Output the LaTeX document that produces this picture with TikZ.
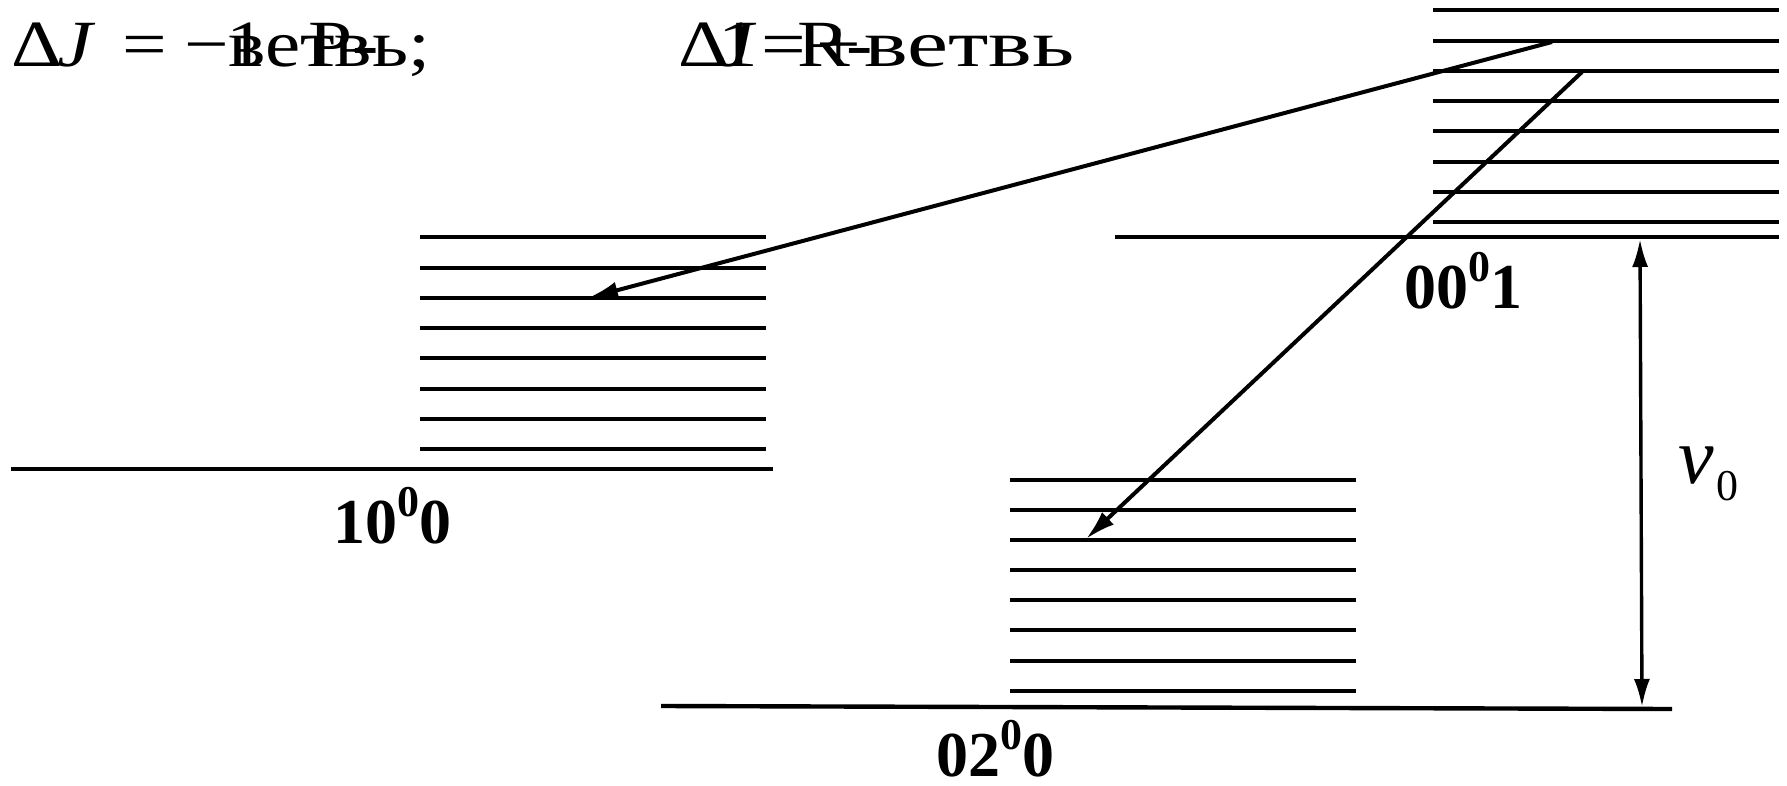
\documentclass[tikz,border=0pt]{standalone}
\usepackage{fontspec}
\setmainfont{Liberation Serif}
\newfontfamily\wideA[FakeStretch=1.2]{Liberation Serif}
\newfontfamily\wideB[FakeStretch=1.4]{Liberation Serif}
\usetikzlibrary{arrows.meta}
\begin{document}
\begin{tikzpicture}[x=1pt,y=-1pt,
  lvl/.style={line width=4.4pt},
  trans/.style={line width=4pt,-{Latex[length=30pt,width=17pt]}},
  vib/.style={font=\bfseries\fontsize{64}{70}\selectfont, inner sep=0pt, anchor=base west},
  top/.style={font=\wideA\fontsize{66}{70}\selectfont, inner sep=0pt, anchor=base west},
  topb/.style={font=\wideB\fontsize{66}{70}\selectfont, inner sep=0pt, anchor=base west}]
\useasboundingbox (0,0) rectangle (1787,786);
\newcommand{\supz}{\raisebox{0.42em}{\fontsize{44}{46}\selectfont 0}}
% top stack 00^01
\foreach \y in {10,41,71,101,131,162,192,222} \draw[lvl] (1433,\y) -- (1779,\y);
\draw[lvl] (1115,237) -- (1779,237);
% left stack 10^00
\foreach \y in {237,268,298,328,358,389,419,449} \draw[lvl] (420,\y) -- (766,\y);
\draw[lvl] (11,469) -- (773,469);
% lower stack 02^00
\foreach \y in {480,510,540,570,600,630,661,691} \draw[lvl] (1010,\y) -- (1356,\y);
\draw[lvl] (661,706) -- (1672,709);
% labels
\node[vib] (l100) at (333,543) {10\supz0};
\node[vib] (l020) at (936,776) {02\supz0};
\node[vib] (l001) at (1404,308) {00\supz1};
% transitions
\coordinate (p1) at (1552,42);
\coordinate (p2) at (588,298);
\coordinate (r1) at (1582,72);
\coordinate (r2) at (1086,539);
\draw[trans] (p1) -- (p2);
\draw[trans] (r1) -- (r2);
% nu0
\coordinate (n1) at (1640,239);
\coordinate (n2) at (1642,707);
\draw[line width=3.4pt,{Latex[length=28pt,width=16pt]}-{Latex[length=28pt,width=16pt]}] (n1) -- (n2);
\node[inner sep=0pt, anchor=base west, font=\itshape\fontsize{80}{88}\selectfont] (nu) at (1678,483) {ν};
\node[inner sep=0pt, anchor=base west, font=\fontsize{44}{46}\selectfont] (nusub) at (1716,500) {0};
% top texts (overlapping as printed)
\node[top] (ta1) at (11,67) {Δ};
\node[top] (ta2) at (57,67) {\itshape J};
\node[top] (ta3) at (122,67) {=};
\node[top] (ta4) at (184,67) {−};
\node[top] (ta5) at (226,67) {1};
\node[top] (ta6) at (228,67) {ветвь;};
\node[top] (ta7) at (308,67) {P-};
\node[top] (tb1) at (678,67) {Δ};
\node[top] (tb2) at (718,67) {1};
\node[top] (tb3) at (718,67) {\itshape J};
\node[top] (tb4) at (761,67) {=};
\node[top] (tb5) at (797,67) {R};
\node[top] (tb6) at (816,67) {+};
\node[top] (tb7) at (846,67) {-};
\node[topb] (tb8) at (864,67) {ветвь};
\end{tikzpicture}
\end{document}
